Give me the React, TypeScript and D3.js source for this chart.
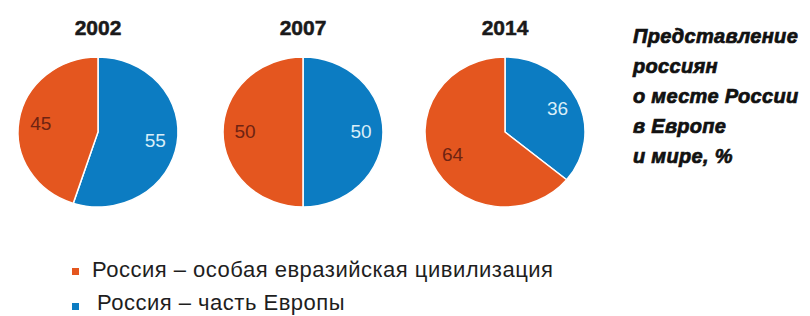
import React from 'react';
import * as d3 from 'd3';

// survey years and shares (%) for each answer
const years = ['2002', '2007', '2014'];
const europeShare = [55, 50, 36];
const eurasiaShare = [45, 50, 64];

const seriesNames = [
  'Россия – особая евразийская цивилизация',
  'Россия – часть Европы',
];
const titleLines = [
  'Представление',
  'россиян',
  'о месте России',
  'в Европе',
  'и мире, %',
];

const ORANGE = '#e4561f';
const BLUE = '#0c7cc2';
const labelColors = { europe: '#d9eef8', eurasia: '#6e2312' };

const width = 810;
const height = 316;

const App = () => {
  // pies sit at these x positions
  const x = d3.scalePoint<string>()
    .domain(years)
    .range([98, 505]);
  // 2007 is a bit off the even spacing in the original, nudge it
  const cx = (y: string, i: number) => (i === 1 ? 303 : x(y)!);
  const cy = 132;
  const rx = 80;
  const ry = 75;

  const pie = d3.pie<{ key: string; value: number }>()
    .sort(null)
    .value((d) => d.value);
  const arc = d3.arc<d3.PieArcDatum<{ key: string; value: number }>>()
    .innerRadius(0)
    .outerRadius(rx);
  const labelArc = d3.arc<d3.PieArcDatum<{ key: string; value: number }>>()
    .innerRadius(58)
    .outerRadius(58);

  return (
    <svg width={width} height={height} style={{ position: 'absolute', left: 0, top: 0, background: '#fff' }}>
      {years.map((yr, i) => {
        const slices = pie([
          { key: 'europe', value: europeShare[i] },
          { key: 'eurasia', value: eurasiaShare[i] },
        ]);
        return (
          <g key={yr} transform={`translate(${cx(yr, i)},${cy})`}>
            <text
              y={35 - cy}
              textAnchor="middle"
              fontFamily="Liberation Sans, Arial, sans-serif"
              fontWeight="bold"
              fontSize={21}
              fill="#1a1a1a"
              stroke="#1a1a1a"
              strokeWidth={0.5}
            >
              {yr}
            </text>
            <g transform={`scale(1,${ry / rx})`}>
              {slices.map((s) => (
                <path
                  key={s.data.key}
                  d={arc(s) || ''}
                  fill={s.data.key === 'europe' ? BLUE : ORANGE}
                  stroke="#fff"
                  strokeWidth={1.5}
                />
              ))}
            </g>
            {slices.map((s) => {
              const [lx, ly] = labelArc.centroid(s);
              return (
                <text
                  key={`l-${s.data.key}`}
                  x={lx}
                  y={ly * (ry / rx) + 6}
                  textAnchor="middle"
                  fontFamily="Liberation Sans, Arial, sans-serif"
                  fontSize={19}
                  fill={labelColors[s.data.key as 'europe' | 'eurasia']}
                >
                  {s.data.value}
                </text>
              );
            })}
          </g>
        );
      })}

      {/* title block on the right */}
      <g transform="translate(633,0)">
        {titleLines.map((t, i) => (
          <text
            key={i}
            y={43 + i * 30}
            fontFamily="Liberation Sans, Arial, sans-serif"
            fontWeight="bold"
            fontStyle="italic"
            fontSize={20}
            letterSpacing={0.3}
            fill="#111"
            stroke="#111"
            strokeWidth={0.7}
          >
            {t}
          </text>
        ))}
      </g>

      {/* legend */}
      {seriesNames.map((name, i) => (
        <g key={name}>
          <rect x={72} y={268 + i * 35} width={7} height={7} fill={i === 0 ? ORANGE : BLUE} />
          <text
            x={i === 0 ? 92 : 97}
            y={i === 0 ? 277 : 310}
            fontFamily="Liberation Sans, Arial, sans-serif"
            fontSize={22}
            letterSpacing={0.5}
            fill="#1e1e1e"
          >
            {name}
          </text>
        </g>
      ))}
    </svg>
  );
};

export default App;
